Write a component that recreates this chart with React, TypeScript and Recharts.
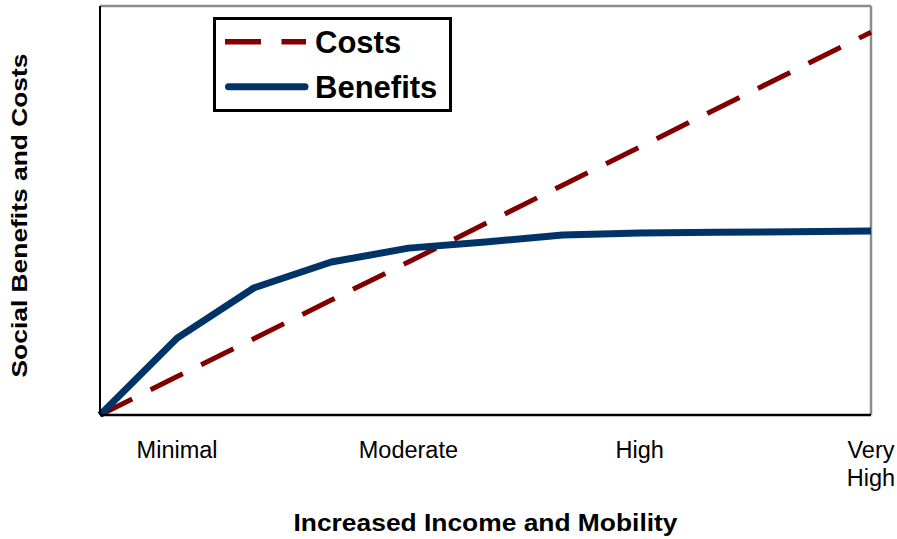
import React from 'react';
import { LineChart, Line, XAxis, YAxis, ReferenceLine, Legend, Label } from 'recharts';

// Levels of increased income and mobility (x categories, 0 = origin)
const levels = [0, 1, 2, 3, 4, 5, 6, 7, 8, 9, 10];
// Series values (relative units, 0-100 scale)
const costs = [0, 9.4, 18.7, 28.1, 37.4, 46.8, 56.2, 65.5, 74.9, 84.2, 93.6];
const benefits = [0, 18.8, 31.1, 37.4, 40.8, 42.3, 44.0, 44.5, 44.7, 44.8, 45.0];
// Tick labels and the levels they sit at
const tickLevels = [1, 4, 7, 10];
const tickLabels = ['Minimal', 'Moderate', 'High', 'Very High'];
// Legend order
const legendOrder = ['costs', 'benefits'];

const xTitle = 'Increased Income and Mobility';
const yTitle = 'Social Benefits and Costs';

const data = levels.map((lv, i) => ({ level: lv, costs: costs[i], benefits: benefits[i] }));

const FONT = '"Liberation Sans", Arial, Helvetica, sans-serif';

const seriesStyle: Record<string, { color: string; width: number; dash?: string; cap: 'butt' | 'round' }> = {
  costs: { color: '#800000', width: 5, dash: '36 20.5', cap: 'butt' },
  benefits: { color: '#003366', width: 7, cap: 'round' },
};

const XTick = (props: any) => {
  const { x, y, payload } = props;
  const idx = tickLevels.indexOf(payload.value);
  const label = idx >= 0 ? tickLabels[idx] : '';
  const lines = label.split(' ');
  return (
    <text x={x} y={y} textAnchor="middle" fontFamily={FONT} fontSize={23.5} fill="#000">
      {lines.map((ln, i) => (
        <tspan key={i} x={x} dy={i === 0 ? 43 : 28}>
          {ln}
        </tspan>
      ))}
    </text>
  );
};

const LegendBox = (props: any) => {
  const payload = [...(props.payload || [])].sort(
    (a: any, b: any) => legendOrder.indexOf(a.dataKey) - legendOrder.indexOf(b.dataKey)
  );
  return (
    <div
      style={{
        width: 239,
        height: 95,
        boxSizing: 'border-box',
        border: '3px solid #000',
        background: '#fff',
      }}
    >
      <svg width={233} height={89} style={{ display: 'block' }}>
        {payload.map((entry: any, i: number) => {
          const st = seriesStyle[entry.dataKey] || { color: entry.color, width: 5, cap: 'butt' };
          const cy = 21.7 + i * 45;
          return (
            <g key={i}>
              <line
                x1={st.cap === 'round' ? 12.5 : 9}
                x2={st.cap === 'round' ? 89 : 90}
                y1={cy}
                y2={cy}
                stroke={st.color}
                strokeWidth={st.cap === 'round' ? 7 : 5.5}
                strokeDasharray={st.dash}
                strokeLinecap={st.cap}
              />
              <text x={99} y={cy + 11} fontFamily={FONT} fontWeight="bold" fontSize={31} fill="#000">
                {entry.value}
              </text>
            </g>
          );
        })}
      </svg>
    </div>
  );
};

export default function App() {
  return (
    <div style={{ position: 'absolute', left: 0, top: 0, width: 897, height: 539, background: '#fff' }}>
      <LineChart width={897} height={539} data={data} margin={{ top: 6, right: 26, left: 0, bottom: 0 }}>
        <XAxis
          dataKey="level"
          type="number"
          domain={[0, 10]}
          ticks={tickLevels}
          tick={<XTick />}
          tickLine={false}
          tickSize={0}
          tickMargin={0}
          height={124}
          axisLine={{ stroke: '#000', strokeWidth: 2.5 }}
          interval={0}
        >
          <Label
            content={(p: any) => {
              const vb = p.viewBox || {};
              const cx = vb.x + vb.width / 2;
              return (
                <text
                  x={cx}
                  y={vb.y + 116}
                  textAnchor="middle"
                  fontFamily={FONT}
                  fontWeight="bold"
                  fontSize={23}
                  fill="#000"
                  textLength={384}
                  lengthAdjust="spacingAndGlyphs"
                >
                  {xTitle}
                </text>
              );
            }}
          />
        </XAxis>
        <YAxis
          type="number"
          domain={[0, 100]}
          tick={false}
          tickLine={false}
          width={100}
          axisLine={{ stroke: '#000', strokeWidth: 2 }}
        >
          <Label
            content={(p: any) => {
              const vb = p.viewBox || {};
              const cy = vb.y + vb.height / 2 + 5;
              const bx = 27;
              return (
                <text
                  x={bx}
                  y={cy}
                  textAnchor="middle"
                  transform={`rotate(-90 ${bx} ${cy})`}
                  fontFamily={FONT}
                  fontWeight="bold"
                  fontSize={22}
                  fill="#000"
                  textLength={324}
                  lengthAdjust="spacingAndGlyphs"
                >
                  {yTitle}
                </text>
              );
            }}
          />
        </YAxis>
        <ReferenceLine y={100} stroke="#8c8c8c" strokeWidth={2.5} />
        <ReferenceLine x={10} stroke="#8c8c8c" strokeWidth={2.5} />
        <Legend
          layout="vertical"
          align="center"
          verticalAlign="middle"
          content={<LegendBox />}
          wrapperStyle={{ left: 213, top: 17, width: 239, height: 95 }}
        />
        <Line
          type="linear"
          dataKey="costs"
          name="Costs"
          stroke={seriesStyle.costs.color}
          strokeWidth={seriesStyle.costs.width}
          strokeDasharray={seriesStyle.costs.dash}
          dot={false}
          activeDot={false}
          isAnimationActive={false}
        />
        <Line
          type="linear"
          dataKey="benefits"
          name="Benefits"
          stroke={seriesStyle.benefits.color}
          strokeWidth={seriesStyle.benefits.width}
          strokeLinejoin="round"
          dot={false}
          activeDot={false}
          isAnimationActive={false}
        />
      </LineChart>
    </div>
  );
}
